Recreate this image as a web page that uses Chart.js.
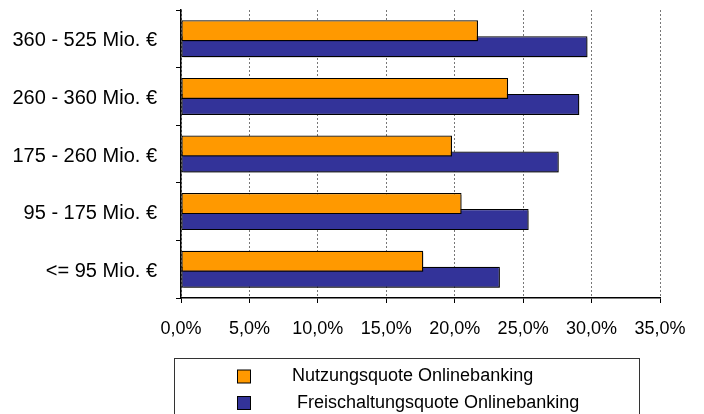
<!DOCTYPE html>
<html>
<head>
<meta charset="utf-8">
<script src="https://cdn.jsdelivr.net/npm/chart.js@4/dist/chart.umd.min.js"></script>
<style>
html,body{margin:0;padding:0;background:#fff;}
#wrap{width:704px;height:414px;}
</style>
</head>
<body>
<div id="wrap"><canvas id="c" width="704" height="414"></canvas></div>
<script>
const categories = ["360 - 525 Mio. €", "260 - 360 Mio. €", "175 - 260 Mio. €", "95 - 175 Mio. €", "<= 95 Mio. €"];
const nutzungsquote = [0.217, 0.239, 0.198, 0.205, 0.177];
const freischaltungsquote = [0.297, 0.291, 0.276, 0.254, 0.233];
const seriesLabels = ["Nutzungsquote Onlinebanking", " Freischaltungsquote Onlinebanking"];
const xTicks = [0, 0.05, 0.10, 0.15, 0.20, 0.25, 0.30, 0.35];

const FONT = "'Liberation Sans', Arial, sans-serif";

const shadowPlugin = {
  id: 'barShadow',
  beforeDatasetDraw(chart) {
    const ctx = chart.ctx;
    ctx.save();
    ctx.shadowColor = 'rgba(0,0,0,0.35)';
    ctx.shadowOffsetX = 2;
    ctx.shadowOffsetY = 2;
    ctx.shadowBlur = 0;
  },
  afterDatasetDraw(chart) {
    chart.ctx.restore();
  }
};

const legendPlugin = {
  id: 'boxLegend',
  afterDraw(chart) {
    const ctx = chart.ctx;
    ctx.save();
    ctx.strokeStyle = '#333';
    ctx.lineWidth = 1;
    ctx.strokeRect(174.5, 358.5, 465, 80);
    ctx.font = '18px ' + FONT;
    ctx.textBaseline = 'middle';
    ctx.fillStyle = '#000';
    const rows = [376.5, 403];
    chart.data.datasets.forEach((ds, i) => {
      const y = rows[i];
      ctx.fillStyle = ds.backgroundColor;
      ctx.fillRect(237.5, y - 6.5, 13, 13);
      ctx.strokeStyle = '#000';
      ctx.strokeRect(237.5, y - 6.5, 13, 13);
      ctx.fillStyle = '#000';
      ctx.fillText(ds.label, 292, y);
    });
    ctx.restore();
  }
};

new Chart(document.getElementById('c'), {
  type: 'bar',
  data: {
    labels: categories,
    datasets: [
      {
        label: seriesLabels[0],
        data: nutzungsquote,
        backgroundColor: '#FF9900',
        borderColor: '#000',
        borderWidth: 1.2,
        borderSkipped: false,
        categoryPercentage: 0.556,
        barPercentage: 1.31
      },
      {
        label: seriesLabels[1],
        data: freischaltungsquote,
        backgroundColor: '#333399',
        borderColor: '#000',
        borderWidth: 1.2,
        borderSkipped: false,
        categoryPercentage: 0.556,
        barPercentage: 1.31
      }
    ]
  },
  options: {
    indexAxis: 'y',
    responsive: false,
    animation: false,
    layout: { padding: { top: 10, right: 44, bottom: 0, left: 0 } },
    plugins: {
      legend: { display: false },
      tooltip: { enabled: false },
      title: { display: false }
    },
    scales: {
      x: {
        min: 0,
        max: 0.35,
        afterBuildTicks(scale) { scale.ticks = xTicks.map(v => ({ value: v })); },
        afterFit(scale) { scale.height = 116; scale.paddingLeft = 0; scale.paddingRight = 0; },
        ticks: {
          color: '#000',
          font: { family: FONT, size: 18 },
          padding: 15,
          maxRotation: 0,
          callback: v => (v * 100).toFixed(1).replace('.', ',') + '%'
        },
        grid: {
          color: '#777',
          lineWidth: 1,
          drawOnChartArea: true,
          tickLength: 5,
          tickColor: '#000',
          tickBorderDash: []
        },
        border: { color: '#000', width: 1.5, dash: [2, 2] }
      },
      y: {
        afterFit(scale) { scale.width = 181; scale.paddingTop = 0; scale.paddingBottom = 0; },
        ticks: {
          color: '#000',
          font: { family: FONT, size: 20 },
          padding: 19,
          labelOffset: 2
        },
        grid: {
          drawOnChartArea: false,
          offset: true,
          tickLength: 5,
          tickColor: '#000'
        },
        border: { color: '#000', width: 1.5 }
      }
    }
  },
  plugins: [shadowPlugin, legendPlugin]
});
</script>
</body>
</html>
